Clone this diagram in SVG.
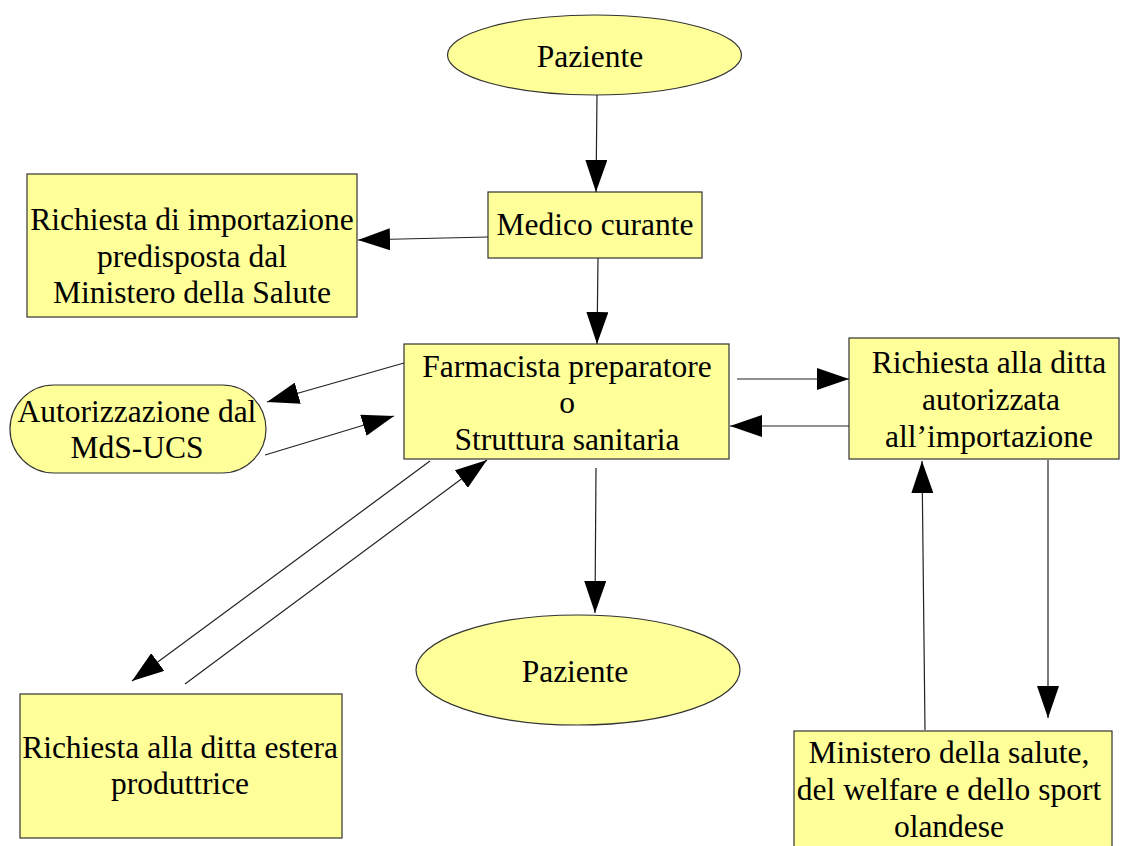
<svg xmlns="http://www.w3.org/2000/svg" width="1121" height="846" viewBox="0 0 1121 846">
<style>
.n{fill:#ffff99;stroke:#333;stroke-width:1.2}
.t{font-family:"Liberation Serif","Times New Roman",serif;font-size:31.5px;fill:#000;text-anchor:middle}
.c line{stroke:#222;stroke-width:1.2;marker-end:url(#ah)}
</style>
<defs>
<marker id="ah" viewBox="0 0 32 22" refX="32" refY="11" markerWidth="32" markerHeight="22" markerUnits="userSpaceOnUse" orient="auto">
<path d="M0,0 L32,11 L0,22 Z" fill="#000"/>
</marker>
</defs>
<rect width="1121" height="846" fill="#fff"/>
<g id="paziente-top">
<ellipse class="n" cx="594.5" cy="55" rx="147" ry="40"/>
<text class="t" x="590" y="67">Paziente</text>
</g>
<g id="medico">
<rect class="n" x="488" y="192" width="214" height="66"/>
<text class="t" x="595" y="235">Medico curante</text>
</g>
<g id="richiesta-importazione">
<rect class="n" x="27" y="174" width="330" height="143"/>
<text class="t" x="192" y="230">Richiesta di importazione</text>
<text class="t" x="192" y="267">predisposta dal</text>
<text class="t" x="192" y="303">Ministero della Salute</text>
</g>
<g id="farmacista">
<rect class="n" x="404" y="344" width="325" height="115"/>
<text class="t" x="567" y="377">Farmacista preparatore</text>
<text class="t" x="567" y="413">o</text>
<text class="t" x="567" y="450">Struttura sanitaria</text>
</g>
<g id="autorizzazione">
<rect class="n" x="10" y="385" width="256" height="88" rx="44" ry="44"/>
<text class="t" x="137" y="422">Autorizzazione dal</text>
<text class="t" x="137" y="458">MdS-UCS</text>
</g>
<g id="richiesta-ditta">
<rect class="n" x="849" y="338" width="270" height="121"/>
<text class="t" x="989" y="373">Richiesta alla ditta</text>
<text class="t" x="991" y="410">autorizzata</text>
<text class="t" x="989" y="447">all’importazione</text>
</g>
<g id="paziente-bottom">
<ellipse class="n" cx="578" cy="670" rx="162" ry="55"/>
<text class="t" x="575" y="682">Paziente</text>
</g>
<g id="richiesta-estera">
<rect class="n" x="20" y="694" width="322" height="144"/>
<text class="t" x="180" y="758">Richiesta alla ditta estera</text>
<text class="t" x="180" y="794">produttrice</text>
</g>
<g id="ministero">
<rect class="n" x="794" y="731" width="318" height="130"/>
<text class="t" x="949" y="763">Ministero della salute,</text>
<text class="t" x="949" y="800">del welfare e dello sport</text>
<text class="t" x="949" y="837">olandese</text>
</g>
<g id="connectors" class="c">
<line x1="597" y1="95" x2="596" y2="192"/>
<line x1="488" y1="237" x2="358" y2="240"/>
<line x1="598" y1="258" x2="597" y2="344"/>
<line x1="404" y1="363" x2="267" y2="402"/>
<line x1="265" y1="455" x2="394" y2="416"/>
<line x1="737" y1="379" x2="849" y2="379"/>
<line x1="849" y1="426" x2="730" y2="426"/>
<line x1="596" y1="468" x2="595" y2="613"/>
<line x1="430" y1="461" x2="132" y2="681"/>
<line x1="185" y1="684" x2="487" y2="460"/>
<line x1="925" y1="730" x2="922" y2="461"/>
<line x1="1048" y1="460" x2="1048" y2="718"/>
</g>
</svg>
